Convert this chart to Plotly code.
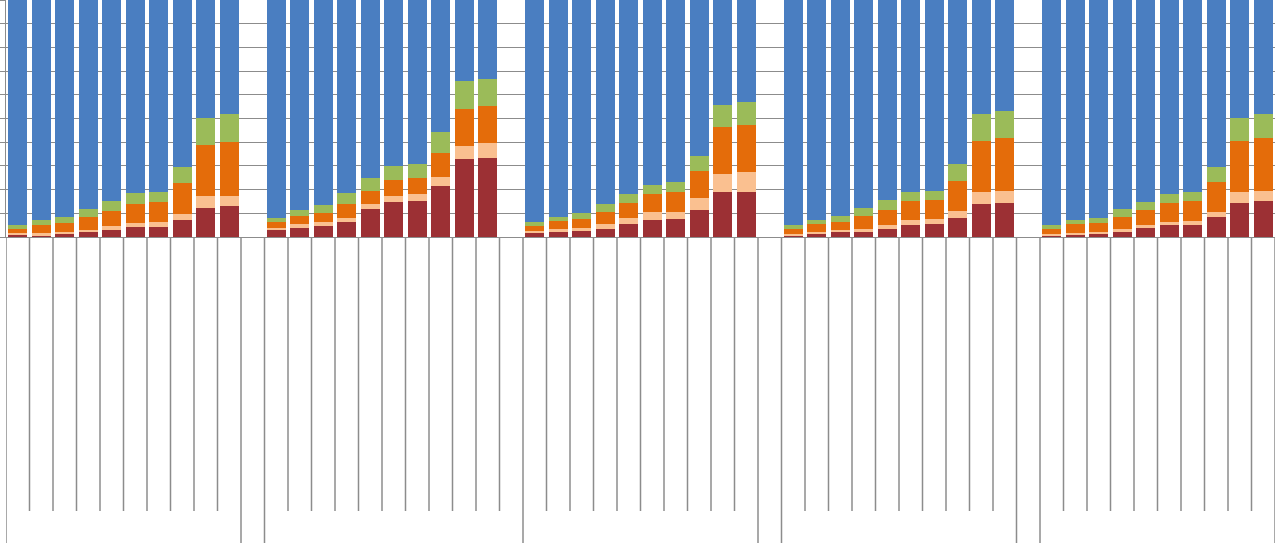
import plotly.graph_objects as go

# Five groups of ten bars, each bar stacked to 100 %
# segment shares (%) per group, bottom to top
RED = [
    [1.1, 0.8, 1.4, 2.0, 3.1, 4.4, 4.1, 7.2, 12.4, 12.9],
    [2.8, 4.0, 4.7, 6.5, 11.7, 14.8, 15.3, 21.6, 32.9, 33.3],
    [1.6, 2.3, 2.5, 3.5, 5.6, 7.1, 7.5, 11.3, 18.8, 19.2],
    [0.7, 1.4, 2.0, 2.3, 3.5, 5.1, 5.4, 7.9, 13.8, 14.5],
    [0.8, 1.1, 1.4, 2.3, 4.0, 5.1, 5.1, 8.5, 14.5, 15.3],
]
PEACH = [
    [0.5, 0.8, 0.9, 1.0, 1.6, 1.7, 2.4, 2.4, 4.7, 4.5],
    [0.9, 1.4, 1.7, 1.7, 2.4, 2.6, 2.8, 3.8, 5.7, 6.2],
    [0.9, 1.1, 1.2, 2.1, 2.6, 3.6, 3.2, 5.1, 7.8, 8.3],
    [0.7, 0.9, 1.0, 1.2, 1.5, 2.0, 2.1, 3.1, 5.4, 5.0],
    [0.6, 0.7, 0.9, 0.9, 0.9, 1.1, 1.7, 2.2, 4.3, 4.2],
]
ORANGE = [
    [1.9, 3.5, 3.6, 5.5, 6.3, 8.0, 8.2, 13.3, 21.9, 22.6],
    [2.8, 3.5, 3.6, 5.6, 5.4, 6.8, 6.8, 10.1, 15.5, 15.6],
    [2.0, 3.4, 3.8, 5.1, 6.3, 7.4, 8.1, 11.6, 19.7, 19.8],
    [2.1, 3.3, 3.5, 5.4, 6.4, 7.9, 8.0, 12.7, 21.5, 22.2],
    [1.8, 3.6, 3.8, 5.3, 6.4, 8.3, 8.5, 12.3, 21.9, 22.2],
]
GREEN = [
    [1.4, 2.0, 2.6, 3.5, 4.1, 4.3, 4.2, 6.8, 11.3, 11.7],
    [1.4, 2.4, 3.6, 4.6, 5.2, 5.7, 5.9, 8.6, 11.6, 11.4],
    [1.9, 1.7, 2.8, 3.4, 3.6, 3.8, 4.2, 6.3, 9.5, 9.6],
    [1.4, 1.6, 2.4, 3.5, 4.1, 4.2, 4.0, 7.1, 11.0, 11.3],
    [1.9, 1.7, 2.1, 3.5, 3.5, 3.6, 3.5, 6.7, 9.6, 10.0],
]
BLUE = [
    [95.1, 92.9, 91.5, 88.0, 84.9, 81.6, 81.1, 70.3, 49.7, 48.3],
    [92.1, 88.7, 86.4, 81.6, 75.3, 70.1, 69.2, 55.9, 34.3, 33.5],
    [93.6, 91.5, 89.7, 85.9, 81.9, 78.1, 77.0, 65.7, 44.2, 43.1],
    [95.1, 92.8, 91.1, 87.6, 84.5, 80.8, 80.5, 69.2, 48.3, 47.0],
    [94.9, 92.9, 91.8, 88.0, 85.2, 81.9, 81.2, 70.3, 49.7, 48.3],
]

SERIES = [
    ("s1", RED, "#9C3034"),
    ("s2", PEACH, "#FAC090"),
    ("s3", ORANGE, "#E46C0A"),
    ("s4", GREEN, "#9BBB59"),
    ("s5", BLUE, "#4A7EC1"),
]

# category slots: 10 bars per group, one empty slot between groups
GROUP_START = [0, 11, 22, 33, 44]
N_SLOTS = 54
LONG_LINES = [0, 10, 11, 22, 32, 33, 43, 44, 54]

GRID = "#8C8C8C"

xpos = [s + i + 0.5 for s in GROUP_START for i in range(10)]

fig = go.Figure()
for name, vals, color in SERIES:
    flat = [v for grp in vals for v in grp]
    fig.add_trace(go.Bar(
        x=xpos, y=flat, name=name, width=0.8,
        marker=dict(color=color, line=dict(width=0)),
    ))

plot_h = 237
short_end = -(511 - 237) / plot_h
long_end = -(560 - 237) / plot_h

shapes = []
for b in range(N_SLOTS + 1):
    end = long_end if b in LONG_LINES else short_end
    shapes.append(dict(
        type="line", xref="x", yref="paper",
        x0=b, x1=b, y0=0, y1=end,
        line=dict(color=GRID, width=1.5),
    ))

fig.update_layout(
    barmode="stack",
    showlegend=False,
    width=1276, height=543,
    margin=dict(l=6, r=1, t=0, b=543 - plot_h, autoexpand=False),
    plot_bgcolor="white",
    paper_bgcolor="white",
    shapes=shapes,
    xaxis=dict(range=[0, N_SLOTS], showgrid=False, showticklabels=False,
               showline=True, linecolor=GRID, linewidth=1, zeroline=False,
               automargin=False),
    yaxis=dict(range=[0, 100], dtick=10, showgrid=True, gridcolor=GRID,
               gridwidth=1, showticklabels=False, ticks="outside", ticklen=6,
               tickcolor=GRID, showline=True, linecolor=GRID, linewidth=1,
               zeroline=False, automargin=False),
)

# drop the browser's default body margin so the chart sits at the corner
fig.write_html("out.html",
               config={"displayModeBar": False},
               post_script="document.body.style.margin='0';"
                           "document.body.style.overflow='hidden';")
